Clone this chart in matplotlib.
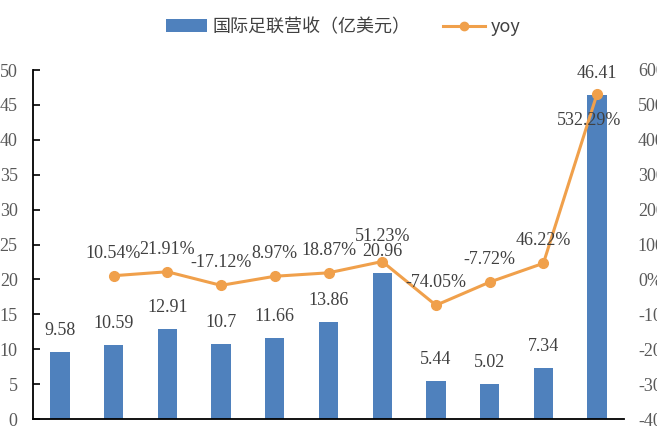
import matplotlib
matplotlib.use("Agg")
import matplotlib.pyplot as plt
from matplotlib.patches import Patch
from matplotlib.lines import Line2D
import numpy as np

categories = ["1", "2", "3", "4", "5", "6", "7", "8", "9", "10", "11"]
revenue = [9.58, 10.59, 12.91, 10.7, 11.66, 13.86, 20.96, 5.44, 5.02, 7.34, 46.41]
yoy = [np.nan, 10.54, 21.91, -17.12, 8.97, 18.87, 51.23, -74.05, -7.72, 46.22, 532.29]
left_ticks = [0, 5, 10, 15, 20, 25, 30, 35, 40, 45, 50]
right_ticks = [-400, -300, -200, -100, 0, 100, 200, 300, 400, 500, 600]

BAR = "#4F81BD"
ORANGE = "#F0A04B"
TXT = "#404040"
TICK = "#595959"
SERIF = "Liberation Serif"

fig = plt.figure(figsize=(6.57, 4.30), dpi=100)
ax = fig.add_axes([33/657, 11/430, (624-33)/657, (419-70)/430])
x = np.arange(len(categories))
ax.bar(x, revenue, width=0.36, color=BAR, zorder=2)
ax.set_xlim(-0.5, len(categories)-0.5)
ax.set_ylim(0, 50)
ax.set_yticks(left_ticks)
ax.set_yticklabels([str(t) for t in left_ticks], fontfamily=SERIF, fontsize=13, color=TICK)
ax.tick_params(axis="y", direction="in", length=5, width=1.2, pad=11)
ax.set_xticks([])
for s in ["top", "right"]:
    ax.spines[s].set_visible(False)
ax.spines["left"].set_linewidth(1.3)
ax.spines["bottom"].set_linewidth(1.3)

for xi, v in zip(x, revenue):
    ax.annotate(f"{v:g}", (xi, v), xytext=(0, 13), textcoords="offset pixels",
                ha="center", va="bottom", fontfamily=SERIF, fontsize=13, color=TXT)

ax2 = ax.twinx()
ax2.set_ylim(-400, 600)
ax2.set_yticks(right_ticks)
ax2.set_yticklabels([f"{t}%" for t in right_ticks], fontfamily=SERIF, fontsize=13, color=TICK)
ax2.tick_params(axis="y", length=0, pad=10)
for s in ["top", "right", "left", "bottom"]:
    ax2.spines[s].set_visible(False)
ax2.plot(x, yoy, color=ORANGE, lw=2.2, marker="o", ms=7, zorder=3)
for xi, v in zip(x, yoy):
    if np.isnan(v):
        continue
    if xi == len(x) - 1:
        ax2.annotate(f"{v:.2f}%", (xi, v), xytext=(-8, -18), textcoords="offset pixels",
                     ha="center", va="top", fontfamily=SERIF, fontsize=13, color=TXT)
    else:
        dy = 17 if xi == 6 else 14
        ax2.annotate(f"{v:.2f}%", (xi, v), xytext=(0, dy), textcoords="offset pixels",
                     ha="center", va="bottom", fontfamily=SERIF, fontsize=13, color=TXT)

handles = [Patch(facecolor=BAR, edgecolor="none"),
           Line2D([0], [0], color=ORANGE, lw=2.2, marker="o", ms=6)]
fig.legend(handles, ["国际足联营收（亿美元）", "yoy"], loc="center", bbox_to_anchor=(0.522, 1-27/430),
           ncol=2, frameon=False, prop={"family": ["Noto Sans CJK SC", "DejaVu Sans"], "size": 13},
           handlelength=2.3, handleheight=0.7, columnspacing=1.8, handletextpad=0.3, labelcolor=TXT)

fig.savefig("out.png", dpi=100)
